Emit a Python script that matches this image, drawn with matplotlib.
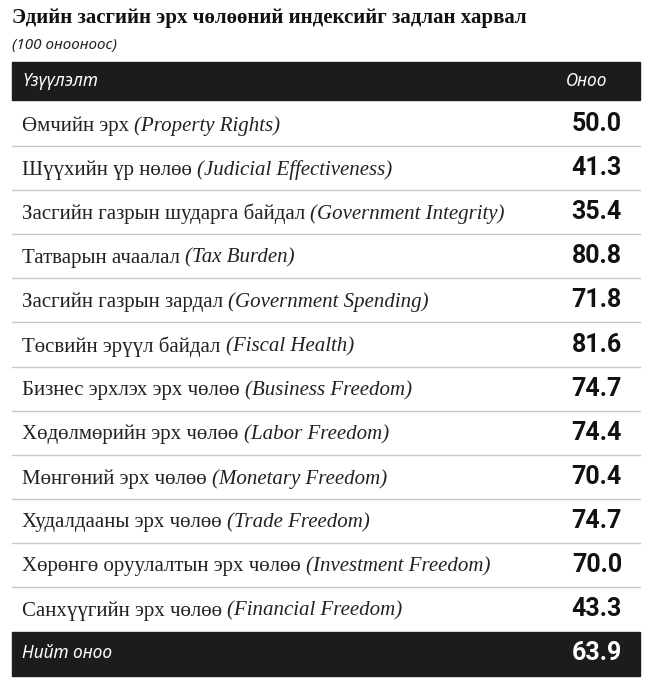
import matplotlib
matplotlib.use("Agg")
import matplotlib.pyplot as plt
from matplotlib.patches import Rectangle

title = "Эдийн засгийн эрх чөлөөний индексийг задлан харвал"
subtitle = "(100 онооноос)"
header = ["Үзүүлэлт", "Оноо"]
names_mn = ["Өмчийн эрх", "Шүүхийн үр нөлөө", "Засгийн газрын шударга байдал",
            "Татварын ачаалал", "Засгийн газрын зардал", "Төсвийн эрүүл байдал",
            "Бизнес эрхлэх эрх чөлөө", "Хөдөлмөрийн эрх чөлөө", "Мөнгөний эрх чөлөө",
            "Худалдааны эрх чөлөө", "Хөрөнгө оруулалтын эрх чөлөө", "Санхүүгийн эрх чөлөө"]
names_en = ["Property Rights", "Judicial Effectiveness", "Government Integrity",
            "Tax Burden", "Government Spending", "Fiscal Health",
            "Business Freedom", "Labor Freedom", "Monetary Freedom",
            "Trade Freedom", "Investment Freedom", "Financial Freedom"]
scores = [50.0, 41.3, 35.4, 80.8, 71.8, 81.6, 74.7, 74.4, 70.4, 74.7, 70.0, 43.3]
total_label = "Нийт оноо"
total = 63.9

serif = ["Liberation Serif", "DejaVu Serif"]
sans = ["Noto Sans", "DejaVu Sans"]
bold = ["Roboto", "Open Sans", "DejaVu Sans"]
dark = "#1c1c1c"

fig = plt.figure(figsize=(6.6, 6.82), dpi=100)
ax = fig.add_axes([0, 0, 1, 1])
ax.set_xlim(0, 660); ax.set_ylim(682, 0); ax.axis("off")
fig.canvas.draw()
renderer = fig.canvas.get_renderer()
inv = ax.transData.inverted()

ax.text(12, 18, title, family=serif, fontweight="bold", fontsize=15, va="center", color="#111")
ax.text(12, 45, subtitle, family=sans, style="italic", fontsize=11, va="center", color="#222")

ax.add_patch(Rectangle((12, 62), 628, 38, color=dark))
ax.text(22, 81, header[0], family=sans, style="italic", fontsize=12.5, color="white", va="center")
ax.text(566, 81, header[1], family=sans, style="italic", fontsize=12.5, color="white", va="center")

y0, dy = 124, 44.1
fs = 15
for i, (m, e, s) in enumerate(zip(names_mn, names_en, scores)):
    y = y0 + i * dy
    t = ax.text(22, y + 2, m + " ", family=serif, fontsize=fs, va="center", color="#222")
    bb = t.get_window_extent(renderer)
    x1 = inv.transform((bb.x1, 0))[0]
    ax.text(x1, y + 2, f"({e})", family=serif, style="italic", fontsize=fs, va="center", color="#222")
    ax.text(622, y, f"{s:.1f}", family=bold, fontweight="bold", fontsize=18, va="center", ha="right", color="#111")
    if i < len(scores) - 1:
        ax.plot([12, 640], [y + dy / 2, y + dy / 2], color="#c8c8c8", lw=1)

ax.add_patch(Rectangle((12, 632), 628, 44, color=dark))
ax.text(22, 653, total_label, family=sans, style="italic", fontsize=12.5, color="white", va="center")
ax.text(622, 653, f"{total:.1f}", family=bold, fontweight="bold", fontsize=18, color="white", va="center", ha="right")

fig.savefig("out.png", dpi=100, facecolor="white")
